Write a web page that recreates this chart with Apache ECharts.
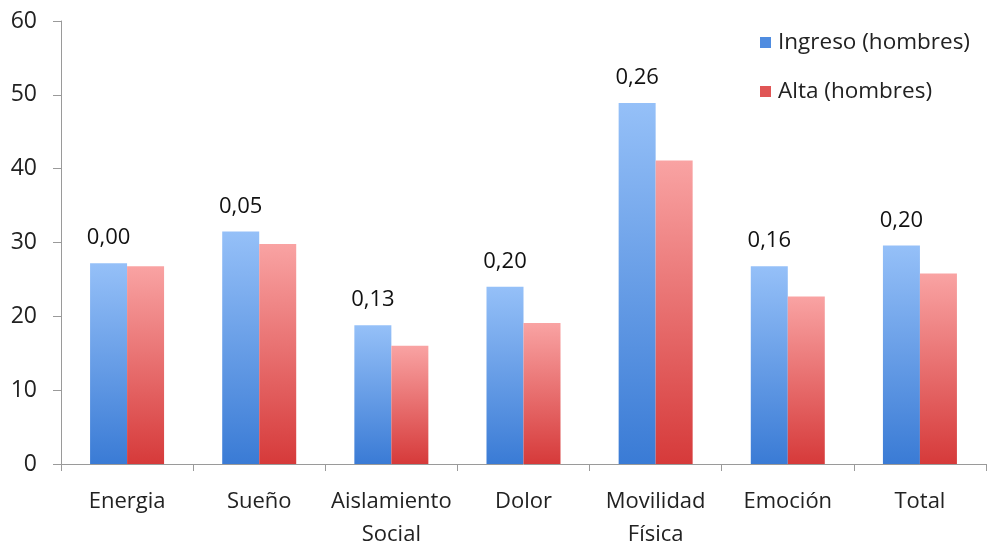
<!DOCTYPE html>
<html>
<head>
<meta charset="utf-8">
<script src="https://cdn.jsdelivr.net/npm/echarts@6/dist/echarts.min.js"></script>
<style>html,body{margin:0;padding:0;background:#fff}#c{width:991px;height:547px}</style>
</head>
<body>
<div id="c"></div>
<script>
const categories = ['Energia', 'Sueño', 'Aislamiento\nSocial', 'Dolor', 'Movilidad\nFísica', 'Emoción', 'Total'];
const ingresoHombres = [27.2, 31.5, 18.8, 24.0, 48.9, 26.8, 29.6];
const altaHombres = [26.8, 29.8, 16.0, 19.1, 41.1, 22.7, 25.8];
const pLabels = ['0,00', '0,05', '0,13', '0,20', '0,26', '0,16', '0,20'];
const yTicks = [0, 10, 20, 30, 40, 50, 60];

const font = 'Open Sans';
const chart = echarts.init(document.getElementById('c'));
function grad(top, bottom) {
  return new echarts.graphic.LinearGradient(0, 0, 0, 1, [
    { offset: 0, color: top }, { offset: 1, color: bottom }
  ]);
}
chart.setOption({
  animation: false,
  backgroundColor: '#ffffff',
  grid: { left: 61, right: 5, top: 21, bottom: 83, containLabel: false, outerBoundsMode: 'none' },
  legend: {
    orient: 'vertical', left: 755, top: 26, itemGap: 26,
    itemWidth: 11, itemHeight: 11, icon: 'rect',
    textStyle: { fontFamily: font, fontSize: 22.5, color: '#222', padding: [0, 0, 0, 2] },
    data: [
      { name: 'Ingreso (hombres)', itemStyle: { color: '#4f8ce0' } },
      { name: 'Alta (hombres)', itemStyle: { color: '#e05555' } }
    ]
  },
  xAxis: {
    type: 'category', data: categories,
    axisLine: { lineStyle: { color: '#9a9a9a', width: 1 } },
    axisTick: { show: true, length: 7, lineStyle: { color: '#9a9a9a' } },
    axisLabel: { fontFamily: font, fontSize: 22, color: '#222', margin: 21, lineHeight: 33, interval: 0 }
  },
  yAxis: {
    type: 'value', min: yTicks[0], max: yTicks[yTicks.length - 1], interval: 10,
    splitLine: { show: false },
    axisLine: { show: true, lineStyle: { color: '#9a9a9a', width: 1 } },
    axisTick: { show: true, length: 8, lineStyle: { color: '#9a9a9a' } },
    axisLabel: { fontFamily: font, fontSize: 23, color: '#222', margin: 24 }
  },
  series: [
    {
      name: 'Ingreso (hombres)', type: 'bar', data: ingresoHombres,
      barWidth: 37, barGap: '0%',
      itemStyle: { color: grad('#95c0f8', '#3a7bd5') },
      label: {
        show: true, position: 'top', distance: 14,
        fontFamily: font, fontSize: 22, color: '#111',
        formatter: p => pLabels[p.dataIndex]
      }
    },
    {
      name: 'Alta (hombres)', type: 'bar', data: altaHombres,
      barWidth: 37, barGap: '0%',
      itemStyle: { color: grad('#f9a3a3', '#d63a3a') }
    }
  ]
});
</script>
</body>
</html>
